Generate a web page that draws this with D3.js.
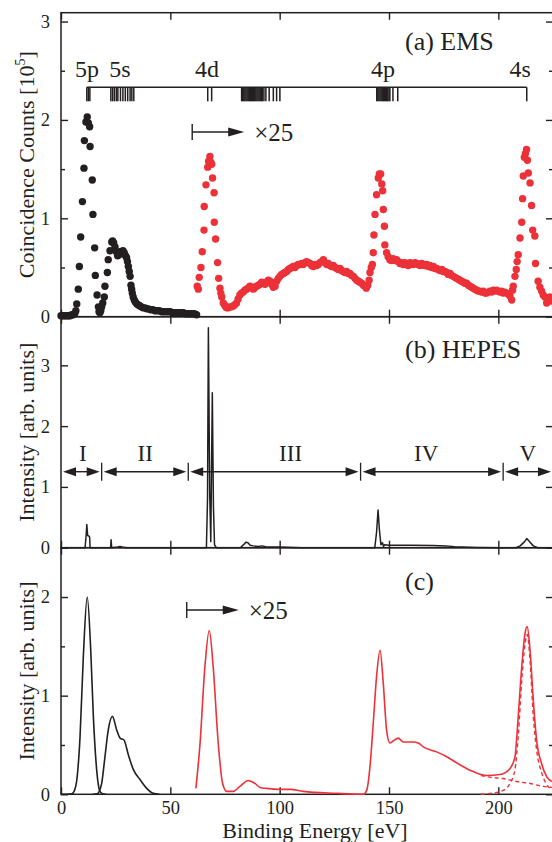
<!DOCTYPE html>
<html><head><meta charset="utf-8">
<script src="https://cdn.jsdelivr.net/npm/d3@7"></script>
<style>
body{margin:0;background:#fff}
svg{display:block}
text{font-family:"Liberation Serif","Times New Roman",serif;fill:#231f20}
</style>
</head><body>
<svg id="chart" width="552" height="842"></svg>
<script>
// ---------- DATA ----------
const xTicks = [0, 50, 100, 150, 200];
// Panel (a) EMS: black dots (outer valence)
const emsBlackE = [0,0.7,1.4,2.1,2.8,3.5,4.2,4.9,5.6,6.3,6.8,7.2,7.9,8.4,9.0,9.8,10.5,10.7,11.4,12.0,12.5,13.1,13.3,14.3,14.6,15.4,15.7,16.5,17.1,17.4,17.8,18.2,18.6,19.1,19.8,20.1,21.2,21.6,22.4,23.2,23.6,24.1,24.7,25.3,25.9,26.5,27.1,27.7,28.3,28.9,29.5,30.0,30.4,30.8,31.2,31.6,32.0,32.3,32.6,33.0,33.5,34.0,34.7,35.4,36.1,36.8,37.5,38.4,39.2,40.0,41.0,42.0,43.0,44.0,45.0,46.0,47.0,48.0,49.0,50.0,51.0,52.0,53.0,54.0,55.0,56.0,57.0,58.0,59.0,60.0,61.0,62.0];
const emsBlackV = [0.01,0.01,0.01,0.01,0.01,0.01,0.01,0.02,0.02,0.03,0.06,0.13,0.28,0.51,0.81,1.17,1.51,1.79,1.98,2.03,1.97,1.93,1.73,1.39,1.04,0.70,0.42,0.22,0.10,0.05,0.04,0.06,0.10,0.14,0.20,0.31,0.45,0.58,0.67,0.76,0.77,0.75,0.71,0.66,0.62,0.63,0.66,0.66,0.67,0.65,0.62,0.60,0.56,0.51,0.46,0.41,0.32,0.28,0.24,0.20,0.17,0.15,0.13,0.12,0.11,0.10,0.09,0.09,0.08,0.08,0.07,0.07,0.06,0.06,0.06,0.05,0.05,0.05,0.05,0.05,0.04,0.04,0.04,0.04,0.04,0.04,0.03,0.03,0.03,0.03,0.03,0.02];
// Panel (a) EMS: red dots (inner valence, x25)
const emsRedE = [62.3,62.8,63.2,64.0,64.6,65.4,65.5,66.3,67.1,67.5,68.1,68.5,68.9,69.3,70.0,70.1,70.7,71.6,72.1,72.7,73.1,73.5,74.2,74.8,75.3,75.8,76.5,77.2,78.0,78.7,79.4,80.3,81.0,81.8,82.5,83.3,84.1,84.8,85.6,86.4,87.2,88.0,88.7,89.5,90.3,91.0,91.8,92.5,93.3,94.0,94.8,95.6,96.3,97.1,97.9,98.6,99.4,100.1,100.9,101.7,102.4,103.2,104.0,104.7,105.5,106.2,107.0,107.8,108.5,109.3,110.1,110.8,111.6,112.3,113.1,113.9,114.6,115.4,116.2,116.9,117.7,118.4,119.2,120.0,120.7,121.5,122.2,123.0,123.8,124.5,125.3,126.1,126.8,127.6,128.3,129.1,129.9,130.6,131.4,132.1,132.9,133.7,134.4,135.2,136.0,136.7,137.5,138.3,139.0,139.6,140.3,140.9,141.3,141.9,142.4,142.8,143.1,143.6,144.3,145.1,145.6,146.2,146.7,147.1,147.4,147.9,148.1,148.9,149.6,150.4,151.1,151.9,152.7,153.5,154.2,155.0,155.8,156.5,157.3,158.1,158.8,159.6,160.3,161.1,161.9,162.6,163.4,164.2,164.9,165.7,166.4,167.2,168.0,168.7,169.5,170.3,171.0,171.8,172.5,173.3,174.1,174.8,175.6,176.4,177.1,177.9,178.6,179.4,180.2,180.9,181.7,182.4,183.2,184.0,184.7,185.5,186.3,187.0,187.8,188.5,189.3,190.1,190.8,191.6,192.3,193.1,193.9,194.6,195.4,196.2,196.9,197.7,198.4,199.2,200.0,200.7,201.5,202.2,203.0,203.8,204.5,205.3,206.1,206.5,206.8,207.6,208.2,208.6,209.1,209.9,210.7,211.1,211.4,211.9,212.4,212.9,213.3,213.7,214.5,215.2,215.7,216.7,217.0,218.2,219.0,219.8,220.5,221.3,222.1,222.8,223.6,224.3,225.0];
const emsRedV = [0.31,0.28,0.40,0.50,0.66,0.88,1.12,1.34,1.52,1.58,1.63,1.57,1.55,1.41,1.26,0.96,0.79,0.55,0.39,0.29,0.24,0.20,0.14,0.12,0.10,0.09,0.09,0.10,0.10,0.11,0.12,0.14,0.18,0.22,0.24,0.25,0.27,0.28,0.29,0.31,0.30,0.28,0.30,0.31,0.32,0.33,0.35,0.34,0.33,0.35,0.37,0.36,0.33,0.30,0.31,0.36,0.39,0.41,0.43,0.44,0.45,0.46,0.48,0.49,0.50,0.51,0.50,0.52,0.53,0.53,0.54,0.53,0.55,0.56,0.55,0.54,0.52,0.51,0.53,0.52,0.53,0.55,0.56,0.58,0.55,0.53,0.54,0.52,0.51,0.52,0.50,0.49,0.48,0.49,0.47,0.46,0.45,0.46,0.44,0.44,0.42,0.41,0.39,0.37,0.36,0.35,0.34,0.32,0.31,0.29,0.32,0.37,0.45,0.50,0.53,0.65,0.83,1.04,1.24,1.41,1.45,1.45,1.35,1.28,1.09,0.92,0.73,0.65,0.61,0.58,0.57,0.59,0.57,0.58,0.56,0.54,0.55,0.53,0.55,0.53,0.52,0.55,0.54,0.53,0.55,0.54,0.53,0.52,0.54,0.53,0.52,0.53,0.51,0.52,0.50,0.51,0.49,0.49,0.48,0.47,0.48,0.46,0.46,0.45,0.43,0.44,0.42,0.41,0.40,0.39,0.38,0.37,0.36,0.35,0.34,0.34,0.32,0.31,0.30,0.29,0.28,0.27,0.26,0.26,0.25,0.26,0.24,0.24,0.25,0.26,0.25,0.27,0.26,0.27,0.26,0.25,0.26,0.24,0.25,0.24,0.23,0.21,0.17,0.27,0.31,0.41,0.48,0.56,0.63,0.80,0.96,1.20,1.43,1.62,1.66,1.70,1.59,1.46,1.36,1.13,0.88,0.82,0.54,0.36,0.30,0.26,0.22,0.20,0.14,0.17,0.20,0.16,0.18];
// Orbital energies (tick bar)
const orbE = [11.8,12.5,13.2,22.8,23.6,24.4,25.3,26.0,27.2,28.3,29.4,30.5,31.6,32.4,33.3,67.1,68.9,82.6,83.1,83.6,84.1,84.6,85.1,85.6,86.1,86.6,87.1,87.6,88.1,88.6,89.1,89.6,90.1,90.6,91.1,91.6,92.1,92.8,93.7,95.2,97.1,98.6,100.1,144.4,144.9,145.4,145.9,146.4,146.9,147.4,147.9,148.4,148.9,149.4,150.0,150.4,151.8,154.0,213.0];
const orbLabels = ["5p","5s","4d","4p","4s"];
const orbLabelE = [11.9,27.0,66.8,147.3,210.0];
// Panel (b) HEPES
const hepesE = [0,11.0,11.5,11.8,12.2,12.8,13.1,13.3,22.7,22.9,23.2,26,27,28,30,66.5,67.0,67.4,68.0,68.5,69.2,69.7,70.2,71,82,83.5,84.5,85.5,86.5,88,90,92,94,100,110,143.5,144.3,145.0,145.6,146.3,147.0,147.5,148,150,160,170,176,180,190,200,208,210,212,213,214,216,218,225];
const hepesV = [0,0,0.2,0.38,0.2,0.19,0.17,0,0,0.13,0,0.01,0.02,0.01,0,0,0.8,3.62,0.9,0.1,2.55,0.7,0.05,0,0,0.05,0.09,0.08,0.04,0.03,0.02,0.03,0.01,0.01,0,0,0.25,0.62,0.3,0.05,0.08,0.02,0.05,0.04,0.04,0.035,0.03,0.015,0.005,0,0,0.03,0.1,0.15,0.11,0.03,0,0];
const regionBounds = [0, 18.6, 58.2, 137.0, 202.2, 225];
const regionLabels = ["I","II","III","IV","V"];
const regionLabelE = [10.0, 38.5, 105.0, 167.0, 213.5];
// Panel (c) theory
const th5pE = [0,3,5,6.2,7.2,8.7,10.2,12.0,13.6,14.8,16.3,17.8,19.0,20.5];
const th5pV = [0,0,0.005,0.04,0.14,0.58,1.39,2.0,1.46,0.79,0.25,0.03,0.005,0];
const th5sE = [14.5,16.5,17.5,18.6,20.1,21.6,23.5,25.5,27.0,28.8,30.8,33.1,36.1,39.2,42.2,45];
const th5sV = [0,0.005,0.03,0.11,0.38,0.65,0.79,0.65,0.57,0.55,0.40,0.25,0.15,0.06,0.01,0];
const thRedE = [61.7,63.6,65.8,67.8,69.6,71.9,73.9,75.8,78.8,81.8,85.6,88.7,91.0,94.0,100.1,105,110.8,126,138.2,139.8,141.3,142.8,144.3,145.9,147.4,148.9,150.4,151.9,154.2,156.5,161.1,163.4,165.7,171.8,176.4,182.4,188.5,194.7,200.7,205.3,207.6,209.1,210.7,212.2,213.2,214.5,216.0,217.5,219.8,222.1,224.5];
const thRedV = [0.06,0.52,1.29,1.66,1.29,0.52,0.11,0.03,0.03,0.08,0.14,0.11,0.07,0.06,0.05,0.05,0.03,0.01,0.0,0.04,0.28,0.72,1.19,1.46,1.12,0.65,0.52,0.54,0.57,0.53,0.53,0.52,0.48,0.43,0.38,0.30,0.23,0.19,0.20,0.26,0.38,0.79,1.29,1.63,1.70,1.46,0.95,0.55,0.31,0.18,0.13];
const thBgE = [192,197,202.2,208.3,214.5,220.5,224.5];
const thBgV = [0.19,0.17,0.16,0.13,0.11,0.08,0.07];
const th4sE = [192,197,202.2,205.3,207.6,209.1,210.7,212.2,213.2,214.5,216.0,217.5,219.8,222.1,224.5];
const th4sV = [0.0,0.01,0.04,0.11,0.25,0.59,1.15,1.52,1.62,1.36,0.79,0.45,0.22,0.10,0.05];

// ---------- CHART ----------
const svg = d3.select("#chart");
const ink = "#231f20", red = "#ec3138";
const X0 = 61, X1 = 553;
const x = d3.scaleLinear().domain([0, 225]).range([X0, X1]);
const panels = [
  {top: 12.7, bot: 316.7, dom: [0, 3.09], major: [0,1,2,3], minor: [0.5,1.5,2.5]},
  {top: 316.7, bot: 547.7, dom: [0, 3.8], major: [0,1,2,3], minor: []},
  {top: 547.7, bot: 794.3, dom: [0, 2.5], major: [0,1,2], minor: [0.5,1.5]}
];
panels.forEach(p => { p.y = d3.scaleLinear().domain(p.dom).range([p.bot, p.top]); });
const font = '"Liberation Serif","Times New Roman",serif';

panels.forEach((p, i) => {
  const g = svg.append("g");
  g.append("rect").attr("x", X0).attr("y", p.top).attr("width", X1 - X0).attr("height", p.bot - p.top)
    .attr("fill", "none").attr("stroke", ink).attr("stroke-width", 1.5);
  g.append("g").attr("transform", `translate(0,${p.bot})`)
    .call(d3.axisBottom(x).tickValues(xTicks).tickSize(-7).tickPadding(7).tickFormat(i === 2 ? d3.format("d") : () => ""));
  g.append("g").attr("transform", `translate(0,${p.top})`)
    .call(d3.axisTop(x).tickValues(xTicks).tickSize(-7).tickFormat(() => ""));
  g.append("g").attr("transform", `translate(${X0},0)`)
    .call(d3.axisLeft(p.y).tickValues(p.major).tickSize(-7).tickPadding(11).tickFormat(d3.format("d")));
  g.append("g").attr("transform", `translate(${X1},0)`)
    .call(d3.axisRight(p.y).tickValues(p.major).tickSize(-7).tickFormat(() => ""));
  if (p.minor.length) {
    g.append("g").attr("transform", `translate(${X0},0)`)
      .call(d3.axisLeft(p.y).tickValues(p.minor).tickSize(-4).tickFormat(() => ""));
    g.append("g").attr("transform", `translate(${X1},0)`)
      .call(d3.axisRight(p.y).tickValues(p.minor).tickSize(-4).tickFormat(() => ""));
  }
  g.selectAll(".domain").remove();
  g.selectAll(".tick line").attr("stroke", ink).attr("stroke-width", 1.4);
  g.selectAll(".tick text").attr("font-family", font).attr("font-size", 18.5).attr("fill", ink);
});

// ----- Panel (a) -----
const pa = panels[0];
const ga = svg.append("g");
ga.selectAll("circle.blk").data(emsBlackE.map((e, i) => [e, emsBlackV[i]])).join("circle")
  .attr("cx", d => x(d[0])).attr("cy", d => pa.y(d[1])).attr("r", 3.7).attr("fill", ink);
ga.selectAll("circle.red").data(emsRedE.map((e, i) => [e, emsRedV[i]])).join("circle")
  .attr("cx", d => x(d[0])).attr("cy", d => pa.y(d[1])).attr("r", 3.7).attr("fill", red);
const barY = 87.3;
ga.append("line").attr("x1", x(d3.min(orbE))).attr("x2", x(d3.max(orbE))).attr("y1", barY).attr("y2", barY)
  .attr("stroke", ink).attr("stroke-width", 1.4);
ga.selectAll("line.orb").data(orbE).join("line")
  .attr("x1", d => x(d)).attr("x2", d => x(d)).attr("y1", barY).attr("y2", barY + 14)
  .attr("stroke", ink).attr("stroke-width", 1.5);
ga.selectAll("text.orb").data(orbLabels).join("text")
  .attr("x", (d, i) => x(orbLabelE[i])).attr("y", 77).attr("text-anchor", "middle")
  .attr("font-size", 24).text(d => d);
ga.append("text").attr("x", 405).attr("y", 50).attr("font-size", 26).text("(a) EMS");

function times25(g, e0, yy) {
  const xs = x(e0);
  g.append("line").attr("x1", xs).attr("x2", xs).attr("y1", yy - 8).attr("y2", yy + 8).attr("stroke", ink).attr("stroke-width", 1.4);
  g.append("line").attr("x1", xs).attr("x2", xs + 38).attr("y1", yy).attr("y2", yy).attr("stroke", ink).attr("stroke-width", 1.4);
  g.append("path").attr("d", `M${xs + 36},${yy - 4.5}L${xs + 52},${yy}L${xs + 36},${yy + 4.5}Z`).attr("fill", ink);
  g.append("text").attr("x", xs + 62).attr("y", yy + 9).attr("font-size", 25).text("\u00d725");
}
times25(ga, 60.0, 132);

const la = svg.append("text").attr("transform", `translate(34,${(pa.top + pa.bot) / 2}) rotate(-90)`)
  .attr("text-anchor", "middle").attr("font-size", 22);
la.append("tspan").text("Coincidence Counts [10");
la.append("tspan").attr("font-size", 14).attr("dy", -9).text("5");
la.append("tspan").attr("dy", 9).text("]");

// ----- Panel (b) -----
const pb = panels[1];
const gb = svg.append("g");
gb.append("path").datum(hepesE.map((e, i) => [e, hepesV[i]]))
  .attr("d", d3.line().x(d => x(d[0])).y(d => pb.y(d[1])))
  .attr("fill", "none").attr("stroke", ink).attr("stroke-width", 1.5).attr("stroke-linejoin", "round");
gb.append("text").attr("x", 405).attr("y", 358).attr("font-size", 26).text("(b) HEPES");
const arrY = 471.7;
regionBounds.slice(1, -1).forEach(b => {
  gb.append("line").attr("x1", x(b)).attr("x2", x(b)).attr("y1", arrY - 9).attr("y2", arrY + 9).attr("stroke", ink).attr("stroke-width", 1.3);
});
for (let i = 0; i < regionLabels.length; i++) {
  const a = x(regionBounds[i]) + 2, b = x(regionBounds[i + 1]) - 2;
  gb.append("line").attr("x1", a + 8).attr("x2", b - 8).attr("y1", arrY).attr("y2", arrY).attr("stroke", ink).attr("stroke-width", 1.4);
  gb.append("path").attr("d", `M${a},${arrY}L${a + 13},${arrY - 4.5}L${a + 13},${arrY + 4.5}Z`).attr("fill", ink);
  gb.append("path").attr("d", `M${b},${arrY}L${b - 13},${arrY - 4.5}L${b - 13},${arrY + 4.5}Z`).attr("fill", ink);
  gb.append("text").attr("x", x(regionLabelE[i])).attr("y", 461).attr("text-anchor", "middle").attr("font-size", 23).text(regionLabels[i]);
}
svg.append("text").attr("transform", `translate(34,${(pb.top + pb.bot) / 2}) rotate(-90)`)
  .attr("text-anchor", "middle").attr("font-size", 22).text("Intensity [arb. units]");

// ----- Panel (c) -----
const pc = panels[2];
const gc = svg.append("g");
const lc = d3.line().x(d => x(d[0])).y(d => pc.y(d[1])).curve(d3.curveMonotoneX);
gc.append("path").datum(th5pE.map((e, i) => [e, th5pV[i]])).attr("d", lc).attr("fill", "none").attr("stroke", ink).attr("stroke-width", 1.6);
gc.append("path").datum(th5sE.map((e, i) => [e, th5sV[i]])).attr("d", lc).attr("fill", "none").attr("stroke", ink).attr("stroke-width", 1.6);
gc.append("path").datum(thBgE.map((e, i) => [e, thBgV[i]])).attr("d", lc).attr("fill", "none").attr("stroke", red).attr("stroke-width", 1.4).attr("stroke-dasharray", "4,3");
gc.append("path").datum(th4sE.map((e, i) => [e, th4sV[i]])).attr("d", lc).attr("fill", "none").attr("stroke", red).attr("stroke-width", 1.4).attr("stroke-dasharray", "4,3");
gc.append("path").datum(thRedE.map((e, i) => [e, thRedV[i]])).attr("d", lc).attr("fill", "none").attr("stroke", red).attr("stroke-width", 1.6);
gc.append("text").attr("x", 405).attr("y", 590).attr("font-size", 26).text("(c)");
times25(gc, 57.5, 610);
svg.append("text").attr("transform", `translate(34,${(pc.top + pc.bot) / 2}) rotate(-90)`)
  .attr("text-anchor", "middle").attr("font-size", 22).text("Intensity [arb. units]");
svg.append("text").attr("x", (X0 + X1) / 2 + 8).attr("y", 838).attr("text-anchor", "middle").attr("font-size", 22).text("Binding Energy [eV]");
</script>
</body></html>
